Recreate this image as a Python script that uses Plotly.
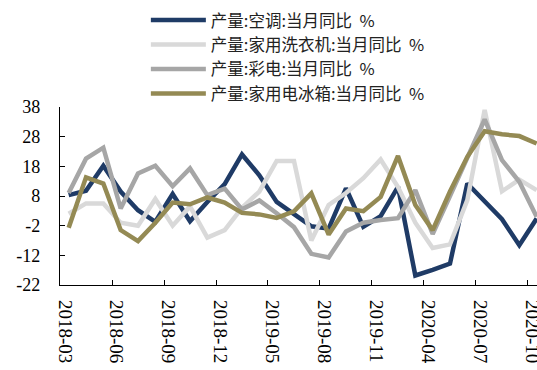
import plotly.graph_objects as go

categories = [
    "2018-03", "2018-04", "2018-05", "2018-06", "2018-07", "2018-08", "2018-09", "2018-10", "2018-11", "2018-12",
    "2019-03", "2019-04", "2019-05", "2019-06", "2019-07", "2019-08", "2019-09", "2019-10", "2019-11", "2019-12",
    "2020-03", "2020-04", "2020-05", "2020-06", "2020-07", "2020-08", "2020-09", "2020-10",
]

air_conditioner = [8.3, 9.8, 18.2, 9.5, 3.2, -0.7, 8.7, -0.5, 6.0, 12.0,
                   22.0, 15.0, 6.0, 1.8, -2.2, -3.0, 10.6, -2.4, 1.2, 11.1,
                   -18.8, -16.9, -14.8, 12.2, 6.3, 0.2, -8.6, 0.4]
washing_machine = [2.0, 5.5, 5.5, -1.0, -2.0, 7.0, -2.0, 4.5, -6.0, -3.5,
                   4.0, 9.5, 19.8, 19.8, -7.0, 5.0, 9.0, 14.0, 20.3, 11.0,
                   -1.0, -9.5, -8.3, 6.6, 37.0, 9.6, 13.5, 10.0]
color_tv = [9.0, 20.6, 24.3, 3.8, 15.6, 18.2, 11.3, 17.3, 8.3, 10.5,
            3.5, 6.5, 2.2, -2.5, -11.5, -12.7, -4.0, -1.0, -0.1, 0.5,
            10.0, -4.8, 8.0, 21.0, 33.8, 20.1, 12.8, 1.0]
refrigerator = [-2.7, 14.3, 12.2, -3.5, -7.2, -1.0, 5.8, 5.2, 7.5, 5.8,
                2.3, 1.8, 0.6, 2.8, 8.9, -5.0, 3.8, 2.9, 7.7, 21.5,
                5.0, -3.5, 9.5, 21.2, 29.8, 28.8, 28.2, 25.7]

series_names = [
    "产量:空调:当月同比  %",
    "产量:家用洗衣机:当月同比  %",
    "产量:彩电:当月同比  %",
    "产量:家用电冰箱:当月同比  %",
]
series_values = [air_conditioner, washing_machine, color_tv, refrigerator]
series_colors = ["#1F3B66", "#D9D9D9", "#A6A6A6", "#948A54"]

y_ticks = [-22, -12, -2, 8, 18, 28, 38]

fig = go.Figure()
for i, (name, vals, col) in enumerate(zip(series_names, series_values, series_colors)):
    fig.add_trace(go.Scatter(
        x=categories, y=vals, name=name, mode="lines",
        line=dict(color=col, width=4.5),
        legendgroup=f"g{i}",
    ))

fig.update_layout(
    template="none",
    width=537, height=370,
    margin=dict(l=60, r=0, t=107, b=85, autoexpand=False),
    paper_bgcolor="white", plot_bgcolor="white",
    font=dict(family="Liberation Serif", color="black"),
    showlegend=True,
    legend=dict(
        x=0.18, y=1.585, xanchor="left", yanchor="top",
        font=dict(family="Noto Sans CJK SC", size=16.5, color="#222"),
        bgcolor="rgba(0,0,0,0)", itemwidth=55,
        tracegroupgap=0, traceorder="grouped",
    ),
    xaxis=dict(
        type="category", categoryorder="array", categoryarray=categories,
        range=[-0.5, 27.02], automargin=False,
        showline=True, linecolor="black", linewidth=1.2,
        ticks="inside", ticklen=5, tickcolor="black", tickwidth=1,
        tickson="boundaries", dtick=3,
        tickangle=90, ticklabelshift=-4, ticklabelstandoff=10,
        tickfont=dict(family="Liberation Serif", size=19, color="black"),
        showgrid=False, zeroline=False,
    ),
    yaxis=dict(
        range=[-22, 38], tickmode="array", tickvals=y_ticks,
        ticktext=[str(t) for t in y_ticks], automargin=False,
        showline=True, linecolor="black", linewidth=1.2,
        ticks="inside", ticklen=5, tickcolor="black", tickwidth=1,
        ticklabelstandoff=15,
        tickfont=dict(family="Liberation Serif", size=18, color="black"),
        showgrid=False, zeroline=False,
    ),
)

fig.write_html("out.html")
